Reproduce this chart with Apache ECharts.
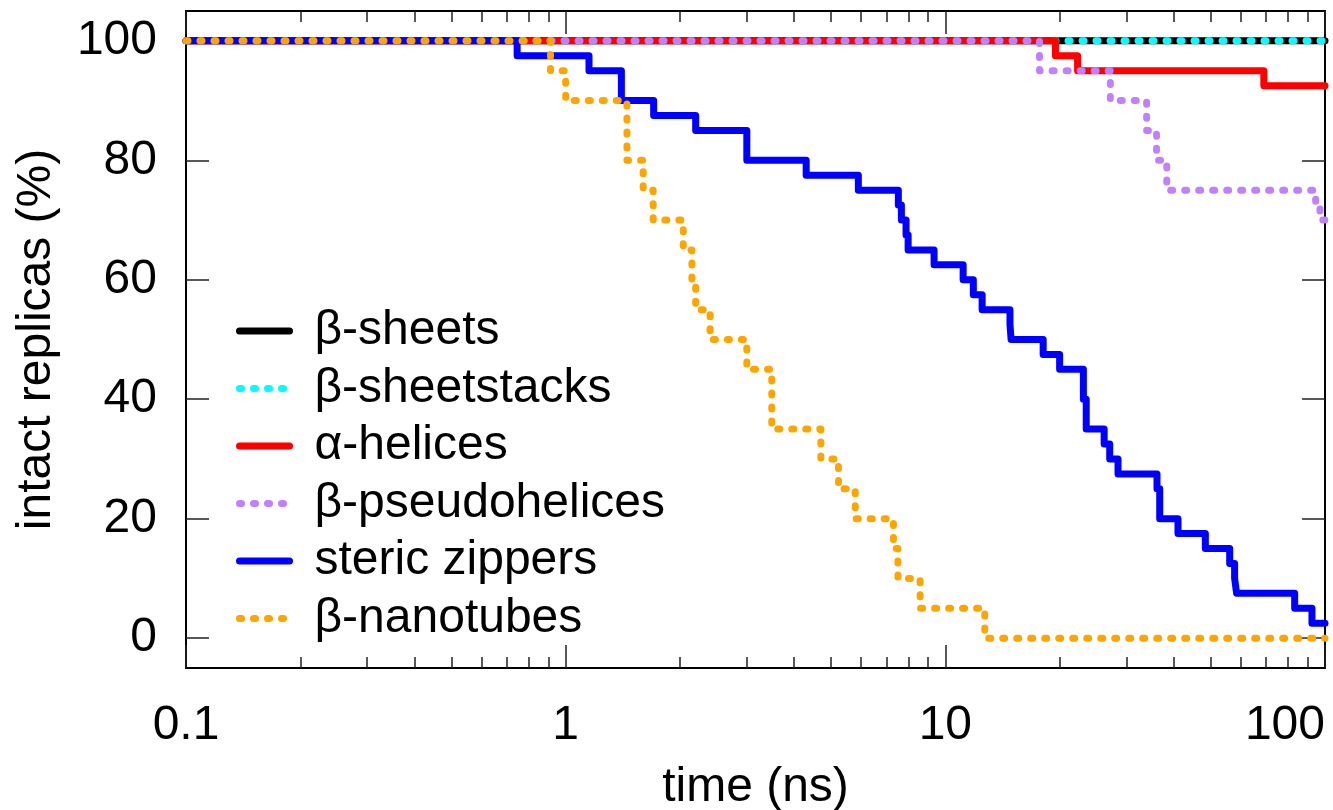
<!DOCTYPE html>
<html>
<head>
<meta charset="utf-8">
<script src="https://cdn.jsdelivr.net/npm/echarts@6/dist/echarts.min.js"></script>
<style>html,body{margin:0;padding:0;background:#fff}#c{width:1333px;height:810px}</style>
</head>
<body>
<div id="c"></div>
<script>
// ---- data (time in ns, intact replicas in %) ----
const seriesNames = ['β-sheets', 'β-sheetstacks', 'α-helices', 'β-pseudohelices', 'steric zippers', 'β-nanotubes'];

const sheetsT = [0.1, 100];
const sheetsY = [100, 100];

const stacksT = [0.1, 100];
const stacksY = [100, 100];

const helicesT = [0.1, 19.5, 22.3, 69.0, 100];
const helicesY = [100, 97.5, 95, 92.5, 92.5];

const pseudoT = [0.1, 17.7, 27.2, 33.9, 36.0, 38.3, 94.5, 97, 100];
const pseudoY = [100, 95, 90, 85, 80, 75, 72.5, 70, 70];

const zipT = [0.1, 0.745, 1.152, 1.402, 1.705, 2.20, 3.00, 4.30, 5.90, 7.52, 7.66, 7.88, 7.98, 9.34, 11.14, 11.85, 12.5, 14.8, 14.9, 18.1, 20.0, 23.1, 23.5, 26.2, 27.1, 28.5, 36.1, 36.7, 41.0, 48.4, 56.1, 57.8, 58.5, 83.2, 92.4, 100];
const zipY = [100, 97.5, 95, 90, 87.5, 85, 80, 77.5, 75, 72.5, 70, 67.5, 65, 62.5, 60, 57.5, 55, 52.5, 50, 47.5, 45, 40, 35, 32.5, 30, 27.5, 25, 20, 17.5, 15, 12.5, 10, 7.5, 5, 2.5, 2.5];

const nanoT = [0.1, 0.912, 1.0, 1.45, 1.60, 1.70, 2.04, 2.15, 2.20, 2.40, 3.00, 3.49, 4.70, 5.23, 5.79, 7.30, 7.50, 8.58, 12.7, 100];
const nanoY = [100, 95, 90, 80, 75, 70, 65, 60, 55, 50, 45, 35, 30, 25, 20, 15, 10, 5, 0, 0];

const xMajorTicks = [0.1, 1, 10, 100];
const xMinorTicks = [0.2,0.3,0.4,0.5,0.6,0.7,0.8,0.9, 2,3,4,5,6,7,8,9, 20,30,40,50,60,70,80,90];
const yTicks = [0, 20, 40, 60, 80, 100];

// ---- chart ----
const FONT = "'Liberation Sans', Arial, Helvetica, sans-serif";
const zip = (t, y) => t.map((v, i) => [v, y[i]]);
const solid = (c) => ({ color: c, width: 7, type: 'solid', cap: 'round', join: 'round' });
const dotted = (c) => ({ color: c, width: 7, type: [2, 12], cap: 'round', join: 'round' });

const defs = [
  [seriesNames[0], sheetsT, sheetsY, solid('#000000')],
  [seriesNames[1], stacksT, stacksY, dotted('#00ffff')],
  [seriesNames[2], helicesT, helicesY, solid('#ff0000')],
  [seriesNames[3], pseudoT, pseudoY, dotted('#c080ff')],
  [seriesNames[4], zipT, zipY, solid('#0000ff')],
  [seriesNames[5], nanoT, nanoY, dotted('#ffa500')]
];

const series = defs.map(([name, t, y, ls]) => ({
  name, type: 'line', step: 'end', data: zip(t, y),
  showSymbol: false, symbol: 'none', lineStyle: ls, itemStyle: { color: ls.color },
  xAxisIndex: 0, yAxisIndex: 0, clip: true, silent: true
}));

const tickStyle = { color: '#222', width: 1.5 };
const xBase = { type: 'log', logBase: 10, min: 0.1, max: 100, splitLine: { show: false } };

const option = {
  animation: false,
  backgroundColor: '#ffffff',
  grid: { left: 186, right: 8, top: 11, bottom: 142, containLabel: false, outerBoundsMode: 'none' },
  legend: {
    orient: 'vertical', left: 231, top: 302,
    itemWidth: 50, itemHeight: 14, itemGap: 9.5,
    data: seriesNames,
    itemStyle: { opacity: 0 },
    lineStyle: { width: 7 },
    textStyle: { fontFamily: FONT, fontSize: 48, color: '#000', lineHeight: 48, padding: [0, 0, 0, 20] },
    selectedMode: false
  },
  xAxis: [
    Object.assign({}, xBase, {
      position: 'bottom',
      name: 'time (ns)', nameLocation: 'middle', nameGap: 96,
      nameTextStyle: { fontFamily: FONT, fontSize: 48, color: '#000' },
      axisLine: { show: true, onZero: false, lineStyle: { color: '#000', width: 2 } },
      axisTick: { show: true, inside: true, length: 23, lineStyle: tickStyle, customValues: xMajorTicks },
      axisLabel: { show: true, customValues: xMajorTicks, fontFamily: FONT, fontSize: 48, color: '#000', margin: 34, alignMaxLabel: 'right',
        formatter: (v) => String(v) }
    }),
    Object.assign({}, xBase, {
      position: 'bottom',
      axisLine: { show: false, onZero: false },
      axisTick: { show: true, inside: true, length: 11, lineStyle: tickStyle, customValues: xMinorTicks },
      axisLabel: { show: false }
    }),
    Object.assign({}, xBase, {
      position: 'top',
      axisLine: { show: true, onZero: false, lineStyle: { color: '#000', width: 2 } },
      axisTick: { show: true, inside: true, length: 23, lineStyle: tickStyle, customValues: xMajorTicks },
      axisLabel: { show: false }
    }),
    Object.assign({}, xBase, {
      position: 'top',
      axisLine: { show: false, onZero: false },
      axisTick: { show: true, inside: true, length: 11, lineStyle: tickStyle, customValues: xMinorTicks },
      axisLabel: { show: false }
    })
  ],
  yAxis: [
    {
      type: 'value', min: -5, max: 105, position: 'left',
      name: 'intact replicas (%)', nameLocation: 'middle', nameGap: 125,
      nameTextStyle: { fontFamily: FONT, fontSize: 48, color: '#000' },
      splitLine: { show: false },
      axisLine: { show: true, onZero: false, lineStyle: { color: '#000', width: 2 } },
      axisTick: { show: true, inside: true, length: 23, lineStyle: tickStyle, customValues: yTicks },
      axisLabel: { show: true, customValues: yTicks, fontFamily: FONT, fontSize: 48, color: '#000', margin: 29 }
    },
    {
      type: 'value', min: -5, max: 105, position: 'right',
      splitLine: { show: false },
      axisLine: { show: true, onZero: false, lineStyle: { color: '#000', width: 2 } },
      axisTick: { show: true, inside: true, length: 23, lineStyle: tickStyle, customValues: yTicks },
      axisLabel: { show: false }
    }
  ],
  series
};

const chart = echarts.init(document.getElementById('c'), null, { renderer: 'canvas' });
chart.setOption(option);
</script>
</body>
</html>
